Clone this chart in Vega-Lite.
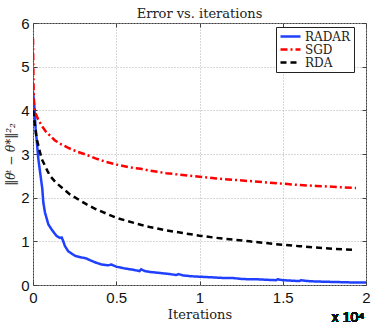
{
  "$schema": "https://vega.github.io/schema/vega-lite/v6.json",
  "width": 333,
  "height": 262,
  "autosize": {"type": "none"},
  "padding": {"left": 33, "top": 23, "right": 8, "bottom": 39},
  "background": "white",
  "title": {"text": "Error vs. iterations", "font": "DejaVu Serif", "fontSize": 13, "fontWeight": "normal", "color": "#222", "offset": -5, "anchor": "middle"},
  "config": {"view": {"stroke": "#404040", "strokeWidth": 1}},
  "data": {"values": [
    {"series": "RADAR", "iter": 0, "err": 4.43},
    {"series": "RADAR", "iter": 80, "err": 4.1},
    {"series": "RADAR", "iter": 160, "err": 3.58},
    {"series": "RADAR", "iter": 320, "err": 2.89},
    {"series": "RADAR", "iter": 420, "err": 2.6},
    {"series": "RADAR", "iter": 560, "err": 2.2},
    {"series": "RADAR", "iter": 620, "err": 1.89},
    {"series": "RADAR", "iter": 720, "err": 1.66},
    {"series": "RADAR", "iter": 920, "err": 1.39},
    {"series": "RADAR", "iter": 1120, "err": 1.27},
    {"series": "RADAR", "iter": 1420, "err": 1.12},
    {"series": "RADAR", "iter": 1620, "err": 1.08},
    {"series": "RADAR", "iter": 1720, "err": 1.09},
    {"series": "RADAR", "iter": 1800, "err": 1.02},
    {"series": "RADAR", "iter": 1920, "err": 0.89},
    {"series": "RADAR", "iter": 2120, "err": 0.77},
    {"series": "RADAR", "iter": 2520, "err": 0.67},
    {"series": "RADAR", "iter": 2920, "err": 0.63},
    {"series": "RADAR", "iter": 3200, "err": 0.61},
    {"series": "RADAR", "iter": 3350, "err": 0.58},
    {"series": "RADAR", "iter": 3720, "err": 0.52},
    {"series": "RADAR", "iter": 4120, "err": 0.47},
    {"series": "RADAR", "iter": 4520, "err": 0.45},
    {"series": "RADAR", "iter": 4700, "err": 0.47},
    {"series": "RADAR", "iter": 5000, "err": 0.42},
    {"series": "RADAR", "iter": 5500, "err": 0.38},
    {"series": "RADAR", "iter": 6000, "err": 0.35},
    {"series": "RADAR", "iter": 6400, "err": 0.32},
    {"series": "RADAR", "iter": 6500, "err": 0.36},
    {"series": "RADAR", "iter": 6700, "err": 0.32},
    {"series": "RADAR", "iter": 7000, "err": 0.30},
    {"series": "RADAR", "iter": 7500, "err": 0.28},
    {"series": "RADAR", "iter": 8000, "err": 0.26},
    {"series": "RADAR", "iter": 8600, "err": 0.23},
    {"series": "RADAR", "iter": 8750, "err": 0.25},
    {"series": "RADAR", "iter": 9000, "err": 0.22},
    {"series": "RADAR", "iter": 9500, "err": 0.20},
    {"series": "RADAR", "iter": 10000, "err": 0.19},
    {"series": "RADAR", "iter": 10500, "err": 0.18},
    {"series": "RADAR", "iter": 11000, "err": 0.17},
    {"series": "RADAR", "iter": 11500, "err": 0.16},
    {"series": "RADAR", "iter": 12000, "err": 0.16},
    {"series": "RADAR", "iter": 12500, "err": 0.14},
    {"series": "RADAR", "iter": 13000, "err": 0.13},
    {"series": "RADAR", "iter": 13500, "err": 0.13},
    {"series": "RADAR", "iter": 14000, "err": 0.12},
    {"series": "RADAR", "iter": 14600, "err": 0.11},
    {"series": "RADAR", "iter": 14700, "err": 0.13},
    {"series": "RADAR", "iter": 15000, "err": 0.11},
    {"series": "RADAR", "iter": 15500, "err": 0.10},
    {"series": "RADAR", "iter": 16000, "err": 0.09},
    {"series": "RADAR", "iter": 16100, "err": 0.11},
    {"series": "RADAR", "iter": 16500, "err": 0.09},
    {"series": "RADAR", "iter": 17000, "err": 0.08},
    {"series": "RADAR", "iter": 18000, "err": 0.07},
    {"series": "RADAR", "iter": 19000, "err": 0.06},
    {"series": "RADAR", "iter": 20000, "err": 0.06},
    {"series": "SGD", "iter": 0, "err": 5.65},
    {"series": "SGD", "iter": 30, "err": 4.6},
    {"series": "SGD", "iter": 60, "err": 4.15},
    {"series": "SGD", "iter": 120, "err": 3.96},
    {"series": "SGD", "iter": 300, "err": 3.8},
    {"series": "SGD", "iter": 520, "err": 3.65},
    {"series": "SGD", "iter": 800, "err": 3.5},
    {"series": "SGD", "iter": 1000, "err": 3.43},
    {"series": "SGD", "iter": 1320, "err": 3.31},
    {"series": "SGD", "iter": 1700, "err": 3.22},
    {"series": "SGD", "iter": 2120, "err": 3.14},
    {"series": "SGD", "iter": 2600, "err": 3.06},
    {"series": "SGD", "iter": 3220, "err": 2.98},
    {"series": "SGD", "iter": 3750, "err": 2.9},
    {"series": "SGD", "iter": 4300, "err": 2.83},
    {"series": "SGD", "iter": 5000, "err": 2.76},
    {"series": "SGD", "iter": 5700, "err": 2.7},
    {"series": "SGD", "iter": 6470, "err": 2.66},
    {"series": "SGD", "iter": 7000, "err": 2.62},
    {"series": "SGD", "iter": 8000, "err": 2.56},
    {"series": "SGD", "iter": 9000, "err": 2.52},
    {"series": "SGD", "iter": 10000, "err": 2.48},
    {"series": "SGD", "iter": 11000, "err": 2.44},
    {"series": "SGD", "iter": 12000, "err": 2.41},
    {"series": "SGD", "iter": 13000, "err": 2.38},
    {"series": "SGD", "iter": 14000, "err": 2.35},
    {"series": "SGD", "iter": 15000, "err": 2.32},
    {"series": "SGD", "iter": 16000, "err": 2.29},
    {"series": "SGD", "iter": 17000, "err": 2.27},
    {"series": "SGD", "iter": 18000, "err": 2.25},
    {"series": "SGD", "iter": 19400, "err": 2.22},
    {"series": "RDA", "iter": 0, "err": 4.0},
    {"series": "RDA", "iter": 100, "err": 3.7},
    {"series": "RDA", "iter": 220, "err": 3.35},
    {"series": "RDA", "iter": 520, "err": 2.89},
    {"series": "RDA", "iter": 860, "err": 2.62},
    {"series": "RDA", "iter": 1020, "err": 2.5},
    {"series": "RDA", "iter": 1360, "err": 2.35},
    {"series": "RDA", "iter": 1760, "err": 2.22},
    {"series": "RDA", "iter": 2200, "err": 2.08},
    {"series": "RDA", "iter": 2760, "err": 1.95},
    {"series": "RDA", "iter": 3250, "err": 1.84},
    {"series": "RDA", "iter": 3760, "err": 1.74},
    {"series": "RDA", "iter": 4560, "err": 1.61},
    {"series": "RDA", "iter": 5000, "err": 1.54},
    {"series": "RDA", "iter": 5700, "err": 1.46},
    {"series": "RDA", "iter": 6470, "err": 1.38},
    {"series": "RDA", "iter": 7000, "err": 1.33},
    {"series": "RDA", "iter": 8000, "err": 1.25},
    {"series": "RDA", "iter": 9000, "err": 1.19},
    {"series": "RDA", "iter": 10000, "err": 1.13},
    {"series": "RDA", "iter": 11000, "err": 1.08},
    {"series": "RDA", "iter": 12000, "err": 1.04},
    {"series": "RDA", "iter": 13000, "err": 1.0},
    {"series": "RDA", "iter": 14000, "err": 0.96},
    {"series": "RDA", "iter": 15000, "err": 0.92},
    {"series": "RDA", "iter": 16000, "err": 0.89},
    {"series": "RDA", "iter": 17000, "err": 0.86},
    {"series": "RDA", "iter": 18000, "err": 0.83},
    {"series": "RDA", "iter": 19400, "err": 0.80}
  ]},
  "resolve": {"axis": {"x": "independent", "y": "independent"}},
  "layer": [
    {
      "mark": {"type": "line", "strokeWidth": 2.5, "clip": true},
      "encoding": {
        "x": {"field": "iter", "type": "quantitative", "scale": {"domain": [0, 20000], "nice": false},
          "axis": {"values": [0, 5000, 10000, 15000, 20000], "labelExpr": "format(datum.value/10000, '~g')",
            "title": "Iterations", "titleFont": "DejaVu Serif", "titleFontSize": 13, "titleFontWeight": "normal", "titleColor": "#222", "titlePadding": 3,
            "labelFont": "Liberation Sans", "labelFontSize": 15, "labelColor": "#111", "labelPadding": 9, "labelFlush": false,
            "domain": false, "ticks": true, "tickSize": -4, "tickColor": "#404040",
            "grid": true, "gridDash": [1, 2], "gridColor": "#b0b0b0", "gridWidth": 1}},
        "y": {"field": "err", "type": "quantitative", "scale": {"domain": [0, 6], "nice": false},
          "axis": {"values": [0, 1, 2, 3, 4, 5, 6],
            "title": "‖θᵗ − θ*‖²₂", "titleFont": "DejaVu Serif", "titleFontStyle": "italic", "titleFontSize": 12, "titleFontWeight": "normal", "titleColor": "#222", "titlePadding": 3,
            "labelFont": "Liberation Sans", "labelFontSize": 15, "labelColor": "#111", "labelPadding": 8, "labelFlush": false,
            "domain": false, "ticks": true, "tickSize": -4, "tickColor": "#404040",
            "grid": true, "gridDash": [1, 2], "gridColor": "#b0b0b0", "gridWidth": 1}},
        "color": {"field": "series", "type": "nominal",
          "scale": {"domain": ["RADAR", "SGD", "RDA"], "range": ["#2040ff", "#ff0000", "#000000"]},
          "legend": {"orient": "none", "legendX": 243, "legendY": 4, "title": null,
            "fillColor": "white", "strokeColor": "#222", "padding": 3,
            "symbolType": "M-1,0L3,0", "symbolSize": 100, "symbolStrokeWidth": 2.5,
            "labelFont": "DejaVu Serif", "labelFontSize": 12, "labelColor": "#222", "labelOffset": 13, "rowPadding": 0}},
        "strokeDash": {"field": "series", "type": "nominal",
          "scale": {"domain": ["RADAR", "SGD", "RDA"], "range": [[1, 0], [7, 3, 2, 3], [6, 4]]},
          "legend": null}
      }
    },
    {
      "mark": {"type": "text", "text": "x 10⁴", "font": "Liberation Sans", "fontSize": 14, "color": "#111", "align": "center", "baseline": "alphabetic", "dx": -18, "dy": 37},
      "encoding": {
        "x": {"datum": 20000, "type": "quantitative",
          "axis": {"orient": "top", "values": [0, 5000, 10000, 15000, 20000], "labels": false, "title": null, "grid": false, "domain": false, "ticks": true, "tickSize": -4, "tickColor": "#404040"}},
        "y": {"datum": 0, "type": "quantitative",
          "axis": {"orient": "right", "values": [0, 1, 2, 3, 4, 5, 6], "labels": false, "title": null, "grid": false, "domain": false, "ticks": true, "tickSize": -4, "tickColor": "#404040"}}
      }
    }
  ]
}
